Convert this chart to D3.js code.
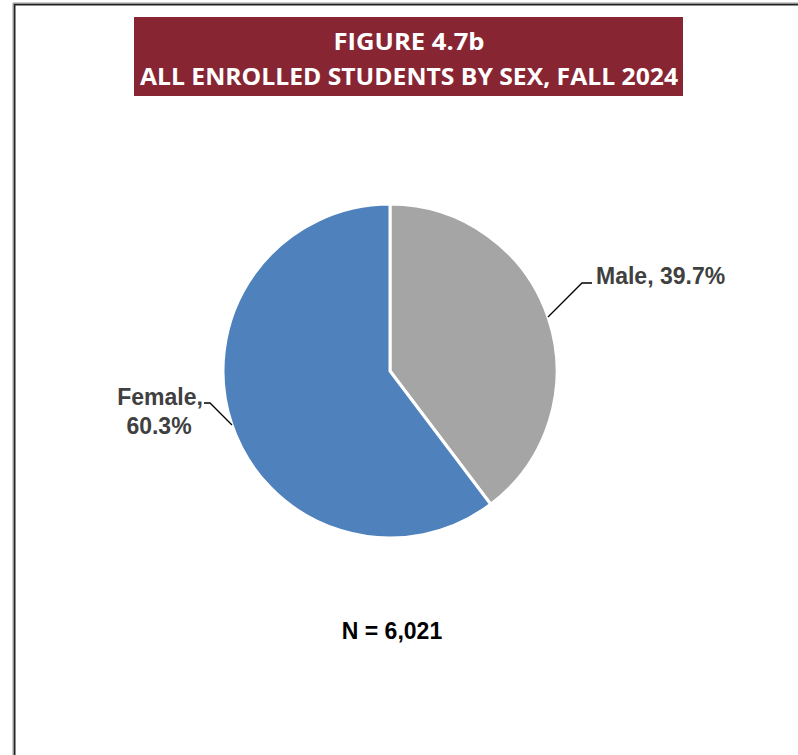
<!DOCTYPE html>
<html><head><meta charset="utf-8">
<script src="https://cdn.jsdelivr.net/npm/d3@7"></script>
<style>body{margin:0;background:#fff;} svg{display:block;}</style>
</head><body>
<script>
const categories = ["Male", "Female"];
const values = [39.7, 60.3];
const colors = ["#A5A5A5", "#4F81BD"];
const titleLines = ["FIGURE 4.7b", "ALL ENROLLED STUDENTS BY SEX, FALL 2024"];
const totalLabel = "N = 6,021";

const W = 798, H = 755;
const svg = d3.select("body").append("svg").attr("width", W).attr("height", H);
svg.append("rect").attr("width", W).attr("height", H).attr("fill", "#fff");

// border (left + top)
svg.append("path").attr("d", `M14.5,${H} L14.5,4.5 L${W},4.5`)
  .attr("fill", "none").attr("stroke", "#222").attr("stroke-width", 2);
svg.append("path").attr("d", `M13,${H} L13,3 L${W},3`)
  .attr("fill", "none").attr("stroke", "#999").attr("stroke-width", 1);

// title box
svg.append("rect").attr("x", 134).attr("y", 17).attr("width", 549).attr("height", 79).attr("fill", "#882533");
svg.append("text").attr("x", 409).attr("y", 50).attr("text-anchor", "middle")
  .attr("font-family", "Open Sans, sans-serif").attr("font-weight", 700).attr("font-size", 24)
  .attr("fill", "#fff").attr("textLength", 151).attr("lengthAdjust", "spacingAndGlyphs").text(titleLines[0]);
svg.append("text").attr("x", 409).attr("y", 85).attr("text-anchor", "middle")
  .attr("font-family", "Open Sans, sans-serif").attr("font-weight", 700).attr("font-size", 24)
  .attr("fill", "#fff").attr("textLength", 538).attr("lengthAdjust", "spacingAndGlyphs").text(titleLines[1]);

// pie
const cx = 390, cy = 371, r = 167;
const pie = d3.pie().sort(null).value(d => d.v);
const data = pie(categories.map((c, i) => ({c, v: values[i], col: colors[i]})));
const arc = d3.arc().innerRadius(0).outerRadius(r);
const g = svg.append("g").attr("transform", `translate(${cx},${cy})`);
g.selectAll("path").data(data).join("path")
  .attr("d", arc).attr("fill", d => d.data.col)
  .attr("stroke", "#fff").attr("stroke-width", 3).attr("stroke-linejoin", "round");

const font = "Liberation Sans, Arial, sans-serif";
// Male label
const m = data[0];
svg.append("polyline").attr("points", `548,317 582,283 592,283`)
  .attr("fill", "none").attr("stroke", "#000").attr("stroke-width", 1.3);
svg.append("text").attr("x", 596).attr("y", 284)
  .attr("font-family", font).attr("font-weight", 700).attr("font-size", 23).attr("fill", "#404040")
  .text(`${m.data.c}, ${m.data.v.toFixed(1)}%`);

// Female label
const f = data[1];
svg.append("polyline").attr("points", `204,403 210,403 232,425`)
  .attr("fill", "none").attr("stroke", "#000").attr("stroke-width", 1.3);
const ft = svg.append("text").attr("font-family", font).attr("font-weight", 700).attr("font-size", 23)
  .attr("fill", "#404040").attr("text-anchor", "middle");
ft.append("tspan").attr("x", 160).attr("y", 405).text(`${f.data.c},`);
ft.append("tspan").attr("x", 159).attr("y", 434).text(`${f.data.v.toFixed(1)}%`);

// N label
svg.append("text").attr("x", 392).attr("y", 639).attr("text-anchor", "middle")
  .attr("font-family", font).attr("font-weight", 700).attr("font-size", 23).attr("fill", "#000")
  .text(totalLabel);
</script>
</body></html>
